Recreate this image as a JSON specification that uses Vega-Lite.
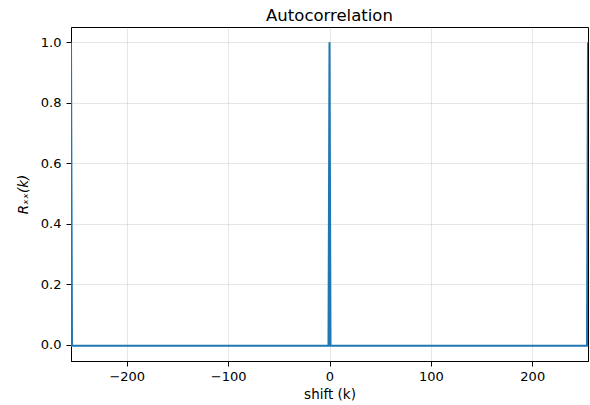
{
  "$schema": "https://vega.github.io/schema/vega-lite/v6.json",
  "width": 517,
  "height": 334,
  "autosize": {"type": "none"},
  "padding": {"left": 71, "top": 27, "right": 2, "bottom": 44},
  "background": "white",
  "title": {"text": "Autocorrelation", "font": "DejaVu Sans", "fontSize": 16.5, "fontWeight": "normal", "color": "black", "offset": 3},
  "config": {
    "view": {"stroke": "black", "strokeWidth": 1},
    "axis": {
      "labelFont": "DejaVu Sans", "labelFontSize": 13, "labelColor": "black",
      "titleFont": "DejaVu Sans", "titleFontSize": 13.5, "titleFontWeight": "normal", "titleColor": "black",
      "domainColor": "black", "tickColor": "black", "tickSize": 5, "labelPadding": 4,
      "gridColor": "#b0b0b0", "gridOpacity": 0.4, "gridWidth": 0.8
    }
  },
  "data": {
    "values": [
      {"k": -255, "r": 1.0},
      {"k": -254, "r": -0.004},
      {"k": -200, "r": -0.004},
      {"k": -100, "r": -0.004},
      {"k": -1, "r": -0.004},
      {"k": 0, "r": 1.0},
      {"k": 1, "r": -0.004},
      {"k": 100, "r": -0.004},
      {"k": 200, "r": -0.004},
      {"k": 254, "r": -0.004},
      {"k": 255, "r": 1.0}
    ]
  },
  "mark": {"type": "line", "color": "#1f77b4", "strokeWidth": 2, "clip": true},
  "encoding": {
    "x": {
      "field": "k", "type": "quantitative", "title": "shift (k)",
      "scale": {"domain": [-255, 255], "nice": false, "zero": false},
      "axis": {"values": [-200, -100, 0, 100, 200], "format": "d", "titlePadding": 4}
    },
    "y": {
      "field": "r", "type": "quantitative", "title": "Rₓₓ(k)",
      "scale": {"domain": [-0.0542, 1.0502], "nice": false, "zero": false},
      "axis": {"values": [0, 0.2, 0.4, 0.6, 0.8, 1.0], "format": ".1f", "titleFontStyle": "italic", "titlePadding": 10, "labelPadding": 5}
    }
  }
}
